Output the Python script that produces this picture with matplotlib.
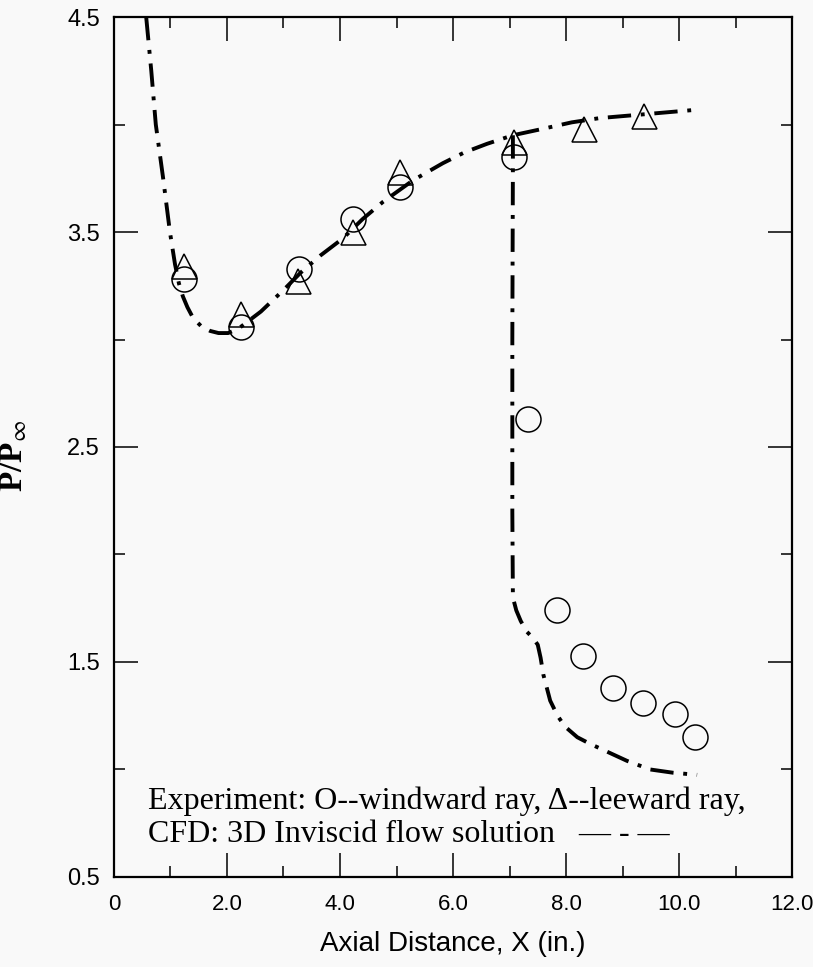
import matplotlib
matplotlib.use("Agg")
import matplotlib.pyplot as plt
from matplotlib.ticker import MultipleLocator, FixedLocator

plt.rcParams['mathtext.fontset'] = 'stix'

# Experimental data, windward (circles) and leeward (triangles)
windward_x = [1.24, 2.25, 3.27, 4.23, 5.06, 7.08, 7.33, 7.84, 8.30, 8.83, 9.36, 9.93, 10.28]
windward_p = [3.28, 3.06, 3.33, 3.56, 3.71, 3.85, 2.63, 1.74, 1.53, 1.38, 1.31, 1.26, 1.15]
leeward_x = [1.24, 2.25, 3.26, 4.23, 5.06, 7.08, 8.32, 9.38]
leeward_p = [3.34, 3.12, 3.27, 3.50, 3.78, 3.92, 3.98, 4.04]

# CFD curve (upper branch) and windward drop
cfd_x = [0.57, 0.66, 0.74, 0.87, 0.99, 1.08, 1.15, 1.22, 1.30, 1.40, 1.55, 1.70, 1.85, 2.02,
         2.20, 2.40, 2.60, 2.80, 3.00, 3.30, 3.65, 4.05, 4.40, 4.76, 5.29, 5.82, 6.20, 6.60,
         7.06, 7.59, 8.10, 8.60, 9.49, 10.37]
cfd_y = [4.50, 4.25, 4.00, 3.75, 3.50, 3.35, 3.26, 3.20, 3.15, 3.10, 3.06, 3.04, 3.03, 3.03,
         3.05, 3.09, 3.13, 3.18, 3.23, 3.31, 3.39, 3.47, 3.56, 3.64, 3.74, 3.82, 3.87, 3.91,
         3.95, 3.98, 4.01, 4.03, 4.05, 4.07]
cfd_drop_x = [7.06, 7.06, 7.05, 7.05, 7.06, 7.12, 7.20, 7.31, 7.42, 7.50, 7.55, 7.60, 7.72,
              7.85, 7.98, 8.20, 8.42, 8.75, 9.08, 9.49, 9.89, 10.32]
cfd_drop_y = [3.95, 3.80, 3.00, 2.20, 1.80, 1.74, 1.69, 1.64, 1.61, 1.58, 1.52, 1.44, 1.32,
              1.25, 1.20, 1.15, 1.12, 1.08, 1.04, 1.00, 0.985, 0.975]

x_ticks = [0, 2, 4, 6, 8, 10, 12]
x_ticklabels = ['0', '2.0', '4.0', '6.0', '8.0', '10.0', '12.0']
y_ticks = [0.5, 1.5, 2.5, 3.5, 4.5]
y_ticklabels = ['0.5', '1.5', '2.5', '3.5', '4.5']

bg = '#f9f9f9'
fig = plt.figure(figsize=(8.13, 9.67), dpi=100, facecolor=bg)
ax = fig.add_axes([0.1402, 0.0931, 0.834, 0.8893], facecolor=bg)

dash = (0, (6, 2.5, 1, 2.5))
ax.plot(cfd_x, cfd_y, color='black', lw=2.8, linestyle=dash)
ax.plot(cfd_drop_x, cfd_drop_y, color='black', lw=2.8, linestyle=dash)

ax.plot(windward_x, windward_p, linestyle='none', marker='o', markersize=18,
        markerfacecolor='none', markeredgecolor='black', markeredgewidth=1.1)
ax.plot(leeward_x, leeward_p, linestyle='none', marker='^', markersize=18,
        markerfacecolor='none', markeredgecolor='black', markeredgewidth=1.1)

ax.set_xlim(0, 12)
ax.set_ylim(0.5, 4.5)
ax.xaxis.set_major_locator(FixedLocator(x_ticks))
ax.xaxis.set_minor_locator(MultipleLocator(1))
ax.yaxis.set_major_locator(FixedLocator(y_ticks))
ax.yaxis.set_minor_locator(FixedLocator([1.0, 2.0, 3.0, 4.0]))
ax.set_xticklabels(x_ticklabels, fontsize=16, fontfamily='Liberation Sans')
ax.set_yticklabels(y_ticklabels, fontsize=17, fontfamily='Liberation Sans')
ax.tick_params(which='major', direction='in', length=17, width=1.1, top=True, right=True)
ax.tick_params(which='minor', direction='in', length=8, width=1.1, top=True, right=True)
ax.tick_params(axis='x', which='major', pad=12)
ax.tick_params(axis='y', which='major', pad=10)
for s in ax.spines.values():
    s.set_linewidth(1.6)

ax.set_ylabel(r'P/P$_{\infty}$', fontsize=24, fontfamily='Liberation Serif', fontweight='bold')
ax.yaxis.set_label_coords(-0.125, 0.49)
ax.set_xlabel('Axial Distance, X (in.)', fontsize=20, fontfamily='Liberation Sans', labelpad=12)

ax.text(0.05, 0.088, 'Experiment: O--windward ray, \u0394--leeward ray,', transform=ax.transAxes,
        fontsize=23, fontfamily='Liberation Serif', va='center')
ax.text(0.05, 0.049, 'CFD: 3D Inviscid flow solution   \u2014 - \u2014', transform=ax.transAxes,
        fontsize=23, fontfamily='Liberation Serif', va='center')

fig.savefig('out.png', dpi=100, facecolor=bg)
